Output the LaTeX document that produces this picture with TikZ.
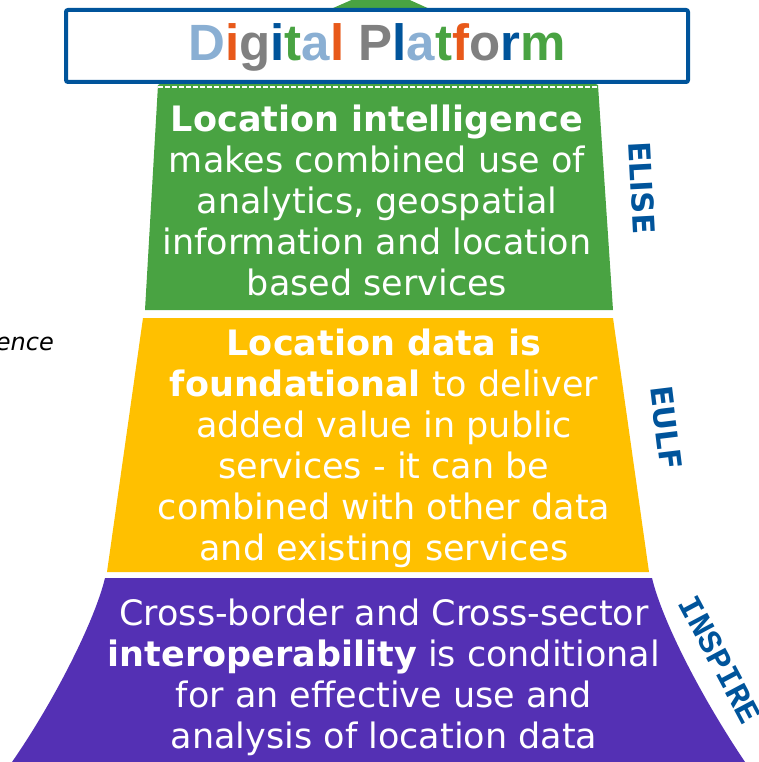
\documentclass[tikz,border=0pt]{standalone}
\usepackage{fontspec}
\setmainfont{DejaVu Sans}
\newfontfamily\titlefont{Liberation Sans}
\newfontfamily\labelmono{Liberation Mono}

\definecolor{bandgreen}{RGB}{73,163,66}
\definecolor{bandyellow}{RGB}{255,192,0}
\definecolor{bandpurple}{RGB}{84,48,180}
\definecolor{boxblue}{RGB}{0,84,155}
\definecolor{lblue}{RGB}{138,175,211}
\definecolor{lorange}{RGB}{232,89,26}
\definecolor{lgray}{RGB}{128,128,128}

\begin{document}
\begin{tikzpicture}[x=1pt,y=-1pt,
                    band text/.style={text=white,align=center,anchor=base,
                      font=\fontsize{35}{41}\selectfont},
                    side label/.style={text=boxblue,font=\bfseries\fontsize{30}{30}\selectfont}]
  \useasboundingbox (0,0) rectangle (759,762);

  % the three bands
  \fill[bandgreen] (381,-13) -- (598,85) -- (613,310) -- (145,310) -- (158,85) -- cycle;
  \fill[bandyellow] (143,318) -- (613,318) -- (649,572) -- (107,572) -- cycle;
  \fill[bandpurple] (105,578) -- (652,578)
    .. controls (662,620) and (700,695) .. (745,762) -- (12,762)
    .. controls (55,700) and (95,620) .. (105,578) -- cycle;

  % platform box
  \draw[boxblue,fill=white,line width=4pt,rounded corners=2pt] (66,10) rectangle (688,82);
  \draw[white,line width=2pt,dash pattern=on 5pt off 2pt] (158,87) -- (598,87);

  \node (title) at (377,47) {\titlefont\bfseries\fontsize{51}{51}\selectfont
    \textcolor{lblue}{D}\textcolor{lorange}{i}\textcolor{lgray}{g}\textcolor{boxblue}{i}%
    \textcolor{bandgreen}{t}\textcolor{lblue}{a}\textcolor{lorange}{l}
    \textcolor{lgray}{P}\textcolor{boxblue}{l}\textcolor{lblue}{a}\textcolor{bandgreen}{t}%
    \textcolor{lorange}{f}\textcolor{lgray}{o}\textcolor{boxblue}{r}\textcolor{bandgreen}{m}};

  % base = last line
  \node[band text] (elise text) at (377,295) {\textbf{Location intelligence}\\
    makes combined use of\\analytics, geospatial\\information and location\\based services};
  \node[band text] (eulf text) at (384,560) {\textbf{Location data is}\\
    \textbf{foundational} to deliver\\added value in public\\services - it can be\\
    combined with other data\\and existing services};
  \node[band text] (inspire text) at (384,748) {Cross-border and Cross-sector\\
    \textbf{interoperability} is conditional\\for an effective use and\\analysis of location data};

  \node[side label,rotate=-87] (elise) at (642,188) {ELISE};
  \node[side label,rotate=-83] (eulf) at (666,428) {EULF};
  \node[side label,rotate=-62,font=\labelmono\bfseries\fontsize{33}{33}\selectfont] (inspire) at (720,660) {INSPIRE};

  \node[anchor=base east,inner sep=0pt,font=\itshape\fontsize{24}{24}\selectfont] (ence) at (54,350) {ence};
\end{tikzpicture}
\end{document}
